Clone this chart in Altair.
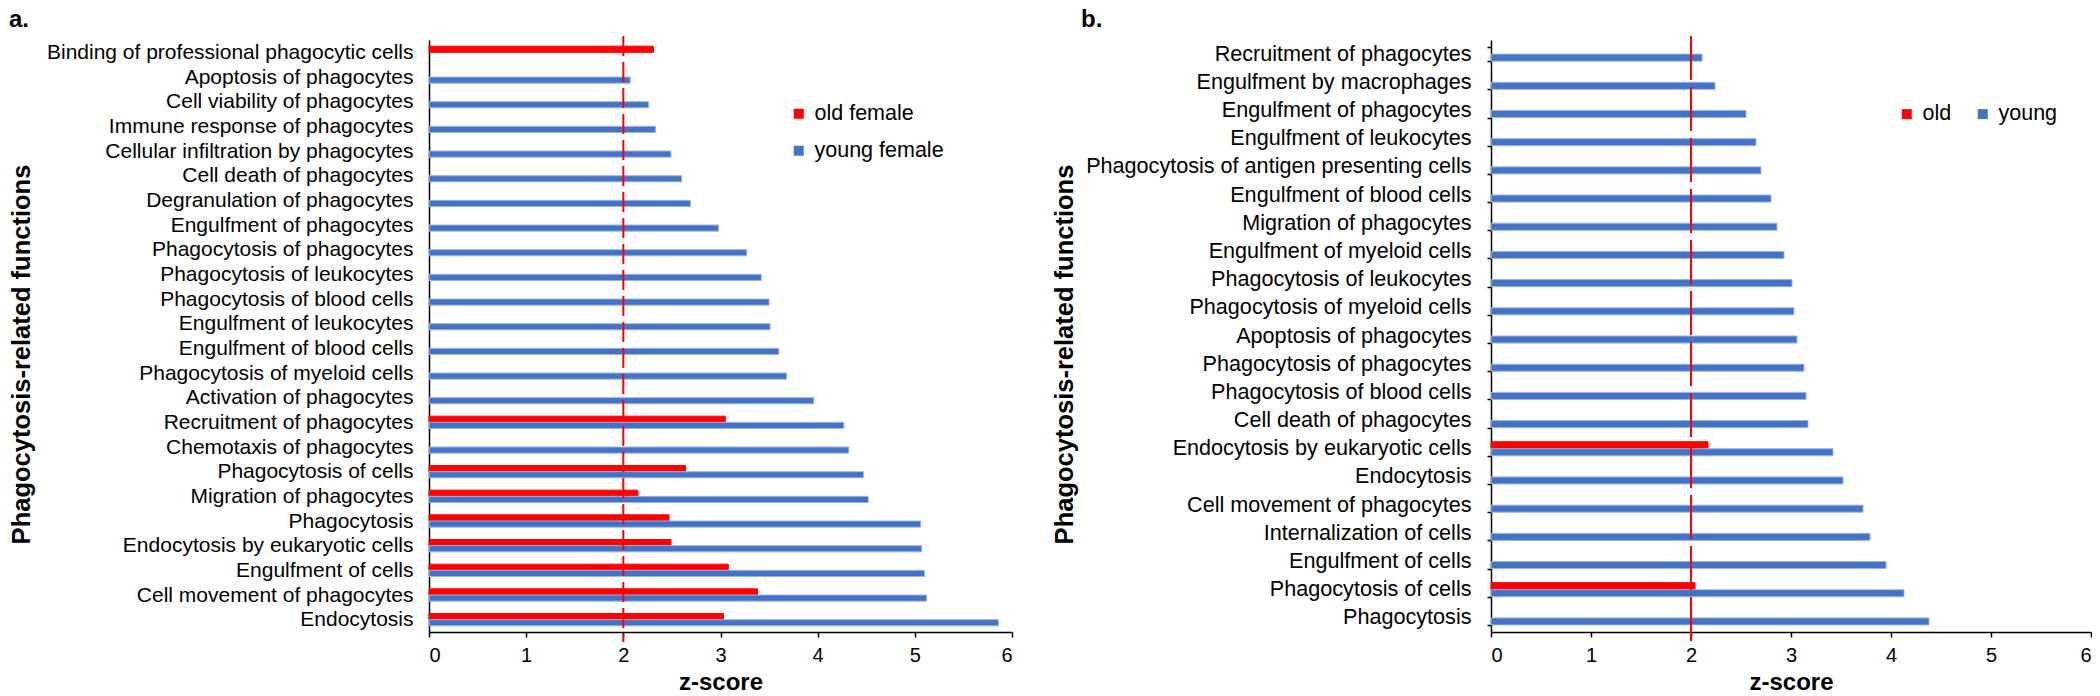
import altair as alt
import pandas as pd

FONT = "Liberation Sans"
THRESHOLD = 2

# ---- Panel a (top to bottom) ----
a_functions = [
    "Binding of professional phagocytic cells",
    "Apoptosis of phagocytes",
    "Cell viability of phagocytes",
    "Immune response of phagocytes",
    "Cellular infiltration by phagocytes",
    "Cell death of phagocytes",
    "Degranulation of phagocytes",
    "Engulfment of phagocytes",
    "Phagocytosis of phagocytes",
    "Phagocytosis of leukocytes",
    "Phagocytosis of blood cells",
    "Engulfment of leukocytes",
    "Engulfment of blood cells",
    "Phagocytosis of myeloid cells",
    "Activation of phagocytes",
    "Recruitment of phagocytes",
    "Chemotaxis of phagocytes",
    "Phagocytosis of cells",
    "Migration of phagocytes",
    "Phagocytosis",
    "Endocytosis by eukaryotic cells",
    "Engulfment of cells",
    "Cell movement of phagocytes",
    "Endocytosis",
]
a_young = [None, 2.07, 2.26, 2.33, 2.49, 2.60, 2.69, 2.98, 3.27, 3.42, 3.50, 3.51,
           3.60, 3.68, 3.96, 4.27, 4.32, 4.47, 4.52, 5.06, 5.07, 5.10, 5.12, 5.86]
a_old = [2.31, None, None, None, None, None, None, None, None, None, None, None,
         None, None, None, 3.05, None, 2.64, 2.15, 2.47, 2.49, 3.08, 3.38, 3.03]
a_groups = ["old female", "young female"]

# ---- Panel b (top to bottom) ----
b_functions = [
    "Recruitment of phagocytes",
    "Engulfment by macrophages",
    "Engulfment of phagocytes",
    "Engulfment of leukocytes",
    "Phagocytosis of antigen presenting cells",
    "Engulfment of blood cells",
    "Migration of phagocytes",
    "Engulfment of myeloid cells",
    "Phagocytosis of leukocytes",
    "Phagocytosis of myeloid cells",
    "Apoptosis of phagocytes",
    "Phagocytosis of phagocytes",
    "Phagocytosis of blood cells",
    "Cell death of phagocytes",
    "Endocytosis by eukaryotic cells",
    "Endocytosis",
    "Cell movement of phagocytes",
    "Internalization of cells",
    "Engulfment of cells",
    "Phagocytosis of cells",
    "Phagocytosis",
]
b_young = [2.11, 2.24, 2.55, 2.65, 2.70, 2.80, 2.86, 2.93, 3.01, 3.03, 3.06,
           3.13, 3.15, 3.17, 3.42, 3.52, 3.72, 3.79, 3.95, 4.13, 4.38]
b_old = [None, None, None, None, None, None, None, None, None, None, None,
         None, None, None, 2.17, None, None, None, None, 2.04, None]
b_groups = ["old", "young"]

x_ticks = [0, 1, 2, 3, 4, 5, 6]
RED = "#FF0000"
BLUE = "#4472C4"
HEIGHT = 592


def make_panel(functions, young, old, groups, width, dash, legend, y_ticks,
               label_size, label_pad, title_x, letter, letter_dx):
    rows = []
    for f, yv, ov in zip(functions, young, old):
        if ov is not None:
            rows.append({"function": f, "group": groups[0], "z": ov})
        if yv is not None:
            rows.append({"function": f, "group": groups[1], "z": yv})
    df = pd.DataFrame(rows)

    x_enc = alt.X(
        "z:Q",
        scale=alt.Scale(domain=[0, 6], nice=False, zero=True),
        axis=alt.Axis(
            values=x_ticks, title="z-score", grid=False, format="d",
            domainColor="black", domainWidth=1.5, tickColor="black", tickWidth=1.5,
            tickSize=5, labelPadding=8, labelFontSize=20, labelFont=FONT,
            labelColor="black", titleFont=FONT, titleFontSize=24,
            titleFontWeight="bold", titleColor="black", titlePadding=5,
        ),
    )
    y_axis = alt.Axis(
        title="Phagocytosis-related functions", labelLimit=600,
        labelFontSize=label_size, labelFont=FONT, labelColor="black",
        titleFont=FONT, titleFontSize=25.5, titleFontWeight="bold",
        titleColor="black", domainColor="black", domainWidth=1.5,
        ticks=y_ticks, tickBand="extent", tickSize=4, tickColor="black",
        tickWidth=1.5, labelPadding=label_pad,
        titleX=title_x, titleY=314, titleAngle=-90, titleBaseline="bottom",
        titleAlign="center", grid=False,
    )
    bars = alt.Chart(df).mark_bar(strokeWidth=1).encode(
        x=x_enc,
        y=alt.Y("function:N", sort=functions,
                scale=alt.Scale(domain=functions, paddingInner=0.5, paddingOuter=0.25),
                axis=y_axis),
        yOffset=alt.YOffset("group:N", scale=alt.Scale(domain=groups)),
        color=alt.Color("group:N", scale=alt.Scale(domain=groups, range=[RED, BLUE]),
                        legend=legend),
        stroke=alt.Stroke("group:N", scale=alt.Scale(domain=groups, range=[RED, "#9DB4E2"]),
                          legend=None),
    )
    rule = alt.Chart(pd.DataFrame({"z": [THRESHOLD]})).mark_rule(
        color=RED, strokeWidth=2, strokeDash=dash
    ).encode(x=alt.X("z:Q"), y=alt.value(-4), y2=alt.value(HEIGHT + 10))

    return alt.layer(bars, rule).properties(
        width=width, height=HEIGHT,
        title=alt.TitleParams(letter, anchor="start", frame="bounds", fontSize=24,
                              font=FONT, fontWeight="bold", color="black",
                              dx=letter_dx, offset=-3),
    )


legend_a = alt.Legend(
    title=None, orient="none", legendX=359, legendY=63, direction="vertical",
    symbolType="square", symbolSize=100, symbolStrokeWidth=0, labelFontSize=21.5,
    labelFont=FONT, labelColor="black", rowPadding=14, padding=0, labelOffset=5,
)
legend_b = alt.Legend(
    title=None, orient="none", legendX=405, legendY=63, direction="horizontal",
    symbolType="square", symbolSize=100, symbolStrokeWidth=0, labelFontSize=21.5,
    labelFont=FONT, labelColor="black", columnPadding=20, padding=0, labelOffset=5,
)

panel_a = make_panel(a_functions, a_young, a_old, a_groups, 583, [20, 6], legend_a,
                     False, 21, 16, -395, "a.", 0)
panel_b = make_panel(b_functions, b_young, b_old, b_groups, 600, [44, 7], legend_b,
                     True, 21.6, 16, -414, "b.", 29)

chart = alt.hconcat(panel_a, panel_b, spacing=38).resolve_scale(
    color="independent", stroke="independent", x="independent", y="independent",
    yOffset="independent"
).resolve_legend(color="independent").configure_view(stroke=None).properties(
    padding={"left": 0, "top": 0, "right": 0, "bottom": 0}
)

chart.save("out.html", embed_options={"renderer": "svg", "actions": False})
